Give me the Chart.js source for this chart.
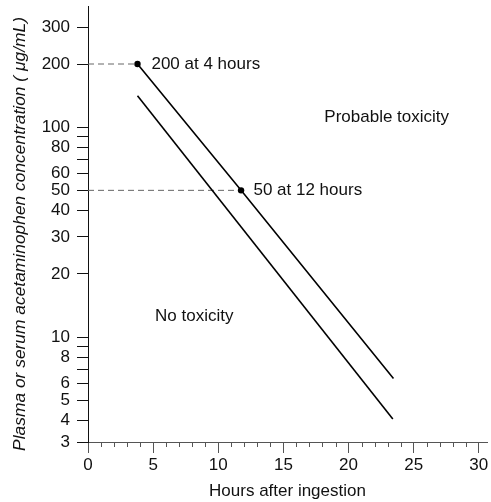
<!DOCTYPE html>
<html><head><meta charset="utf-8">
<script src="https://cdn.jsdelivr.net/npm/chart.js@4/dist/chart.umd.min.js"></script>
<style>html,body{margin:0;padding:0;background:#fff}#wrap{width:491px;height:502px}</style>
</head><body><div id="wrap"><canvas id="c" width="491" height="502"></canvas></div>
<script>
const FONT = '"Liberation Sans", Arial, Helvetica, sans-serif';

// ---- data ----
const upperHours = [3.8, 11.75, 23.45];
const upperConc  = [200, 50, 6.35];
const lowerHours = [3.8, 23.4];
const lowerConc  = [141, 4.07];
const markerHours = [3.8, 11.75];
const markerConc  = [200, 50];

const xTickValues = [0, 5, 10, 15, 20, 25, 30];
const xMinorTicks = [1,2,3,4,6,7,8,9,11,12,13,14,16,17,18,19,21,22,23,24,26,27,28,29];
const yTickValues = [3, 4, 5, 6, 7, 8, 9, 10, 20, 30, 40, 50, 60, 70, 80, 90, 100, 200, 300];
const yTickLabels = ['3','4','5','6','','8','','10','20','30','40','50','60','','80','','100','200','300'];

const labelTexts = ['200 at 4 hours', '50 at 12 hours', 'Probable toxicity', 'No toxicity'];
const xTitle = 'Hours after ingestion';
const yTitle = 'Plasma or serum acetaminophen concentration ( \u03bcg/mL)';

// annotation anchors (data units) – layout, kept separate from values
const labelAnchors = [
  {x: 4.87, y: 200, align: 'left'},
  {x: 12.7, y: 50, align: 'left'},
  {x: 22.93, y: 112, align: 'center'},
  {x: 8.16, y: 12.5, align: 'center'}
];

const pts = (xs, ys) => xs.map((x, i) => ({x, y: ys[i]}));

const extras = {
  id: 'extras',
  afterDraw(chart) {
    const ctx = chart.ctx, xs = chart.scales.x, ys = chart.scales.y;
    ctx.save();
    // minor x ticks
    ctx.strokeStyle = '#555';
    ctx.lineWidth = 1;
    ctx.beginPath();
    xMinorTicks.forEach(v => {
      const px = Math.round(xs.getPixelForValue(v)) + 0.5;
      ctx.moveTo(px, ys.bottom);
      ctx.lineTo(px, ys.bottom + 5);
    });
    ctx.stroke();
    // text labels
    ctx.fillStyle = '#111';
    ctx.font = '17px ' + FONT;
    ctx.textBaseline = 'middle';
    labelTexts.forEach((t, i) => {
      const a = labelAnchors[i];
      ctx.textAlign = a.align;
      ctx.fillText(t, xs.getPixelForValue(a.x), ys.getPixelForValue(a.y));
    });
    // y title
    ctx.translate(20, 234);
    ctx.rotate(-Math.PI / 2);
    ctx.textAlign = 'center';
    ctx.font = 'italic 17.4px ' + FONT;
    ctx.fillText(yTitle, 0, 0);
    ctx.restore();
  }
};

new Chart(document.getElementById('c'), {
  type: 'scatter',
  data: {
    datasets: [
      {data: pts(upperHours, upperConc), showLine: true, borderColor: '#000', borderWidth: 1.6,
       pointRadius: ctx => (ctx.dataIndex < markerHours.length ? 3.2 : 0),
       pointBackgroundColor: '#000', pointBorderWidth: 0},
      {data: pts(lowerHours, lowerConc), showLine: true, borderColor: '#000', borderWidth: 1.6, pointRadius: 0},
      {data: [{x: 0, y: markerConc[0]}, {x: markerHours[0], y: markerConc[0]}], showLine: true,
       borderColor: '#666', borderWidth: 1, borderDash: [6, 4], pointRadius: 0},
      {data: [{x: 0, y: markerConc[1]}, {x: markerHours[1], y: markerConc[1]}], showLine: true,
       borderColor: '#666', borderWidth: 1, borderDash: [6, 4], pointRadius: 0}
    ]
  },
  options: {
    responsive: false,
    animation: false,
    devicePixelRatio: 1,
    layout: {padding: {top: 6, right: 1, left: 0, bottom: 0}},
    plugins: {legend: {display: false}, tooltip: {enabled: false}},
    scales: {
      x: {
        type: 'linear', min: 0, max: 30.63,
        afterBuildTicks: s => { s.ticks = xTickValues.map(v => ({value: v})); },
        afterFit: s => { s.height = 60; s.paddingLeft = 0; s.paddingRight = 0; },
        grid: {drawOnChartArea: false, drawTicks: true, tickLength: 11, color: '#555'},
        border: {display: true, color: '#555', width: 1},
        ticks: {color: '#111', font: {family: FONT, size: 17}, padding: 2, maxRotation: 0, autoSkip: false},
        title: {display: true, text: xTitle, color: '#111', font: {family: FONT, size: 17}, padding: {top: 4, bottom: 0}}
      },
      y: {
        type: 'logarithmic', min: 3.16, max: 378,
        afterBuildTicks: s => { s.ticks = yTickValues.map(v => ({value: Math.max(v, s.min)})); },
        afterFit: s => { s.width = 88; s.paddingTop = 0; s.paddingBottom = 0; },
        grid: {drawOnChartArea: false, drawTicks: true, tickLength: 11, color: '#111'},
        border: {display: true, color: '#111', width: 1},
        ticks: {color: '#111', font: {family: FONT, size: 17}, padding: 7, autoSkip: false,
                callback: (v, i) => yTickLabels[i]}
      }
    }
  },
  plugins: [extras]
});
</script></body></html>
